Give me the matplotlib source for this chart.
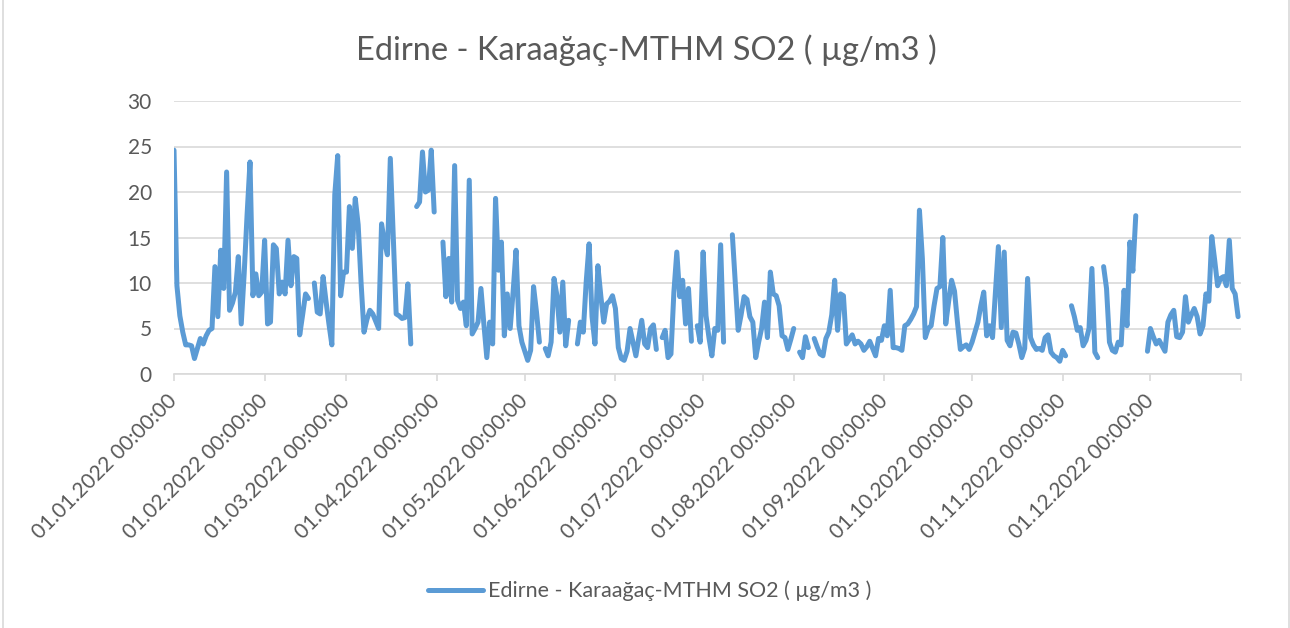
import numpy as np
import pandas as pd
import matplotlib
matplotlib.use('Agg')
import matplotlib.pyplot as plt
from matplotlib.patches import Rectangle

plt.rcParams['font.family'] = ['Lato', 'DejaVu Sans']

# ---- daily SO2 values (µg/m3), None = no measurement ----
jan = [24.6, 9.7, 6.4, 4.6, 3.2, 3.2, 3.1, 1.7, 2.8, 3.9, 3.3, 4.2, 4.8, 5.0, 11.8, 6.3,
       13.6, 9.4, 22.2, 7.0, 7.8, 9.0, 12.9, 5.5, 11.0, 17.5, 23.3, 8.6, 11.0, 8.6, 9.0]
feb = [14.7, 5.5, 5.7, 14.2, 13.8, 8.8, 10.1, 8.8, 14.7, 9.7, 12.9, 12.7, 4.3, 6.5,
       8.8, 8.3, None, 10.0, 6.8, 6.6, 10.7, 8.0, 5.5, 3.2, 19.7, 24.0, 8.6, 11.2]
mar = [11.2, 18.4, 13.8, 19.3, 16.4, 10.0, 4.6, 6.0, 7.0, 6.6, 5.8, 5.0, 16.5, 14.5,
       13.1, 23.7, 15.0, 6.6, 6.4, 6.1, 6.2, 9.9, 3.3, None, 18.4, 18.9, 24.4, 20.0,
       20.2, 24.6, 17.8]
apr = [None, None, 14.5, 8.5, 12.7, 7.9, 22.9, 8.1, 7.2, 7.9, 5.3, 21.3, 4.4, 5.0,
       5.7, 9.4, 5.5, 1.8, 5.7, 3.3, 19.3, 11.4, 14.5, 4.2, 8.8, 5.0, 9.0, 13.6, 5.3, 3.5]
may = [2.5, 1.5, 2.6, 9.6, 6.8, 3.5, None, 2.8, 2.0, 3.5, 10.5, 8.6, 4.6, 10.1, 3.1,
       5.9, None, None, 3.3, 5.7, 4.6, 10.1, 14.3, 6.3, 3.3, 11.9, 8.6, 5.7, 7.7, 8.0, 8.6]
jun = [7.2, 2.9, 1.7, 1.5, 2.5, 5.0, 3.5, 2.0, 4.0, 5.9, 3.3, 2.9, 5.0, 5.4, 2.7,
       None, 4.0, 4.8, 1.8, 2.2, 9.0, 13.4, 8.5, 10.3, 5.5, 9.4, 3.6, None, 5.3, 3.5]
jul = [13.4, 6.4, 4.0, 2.0, 5.0, 4.8, 14.2, 3.5, None, None, 15.3, 10.0, 4.8, 6.5,
       8.5, 8.2, 6.3, 5.7, 1.8, 3.5, 5.0, 7.9, 4.0, 11.2, 8.8, 8.6, 7.5, 4.2, 4.0, 2.7, 3.8]
aug = [5.0, None, 2.4, 1.8, 4.1, 2.9, None, 3.9, 3.0, 2.2, 2.0, 3.9, 4.6, 6.5, 10.3,
       4.8, 8.8, 8.6, 3.3, 3.8, 4.3, 3.3, 3.6, 3.3, 2.6, 3.0, 3.6, 2.8, 2.0, 3.9, 3.7]
sep = [5.3, 4.2, 9.2, 2.9, 2.9, 2.8, 2.6, 5.3, 5.5, 6.0, 6.6, 7.4, 18.0, 12.7, 4.0,
       5.0, 5.3, 7.5, 9.4, 9.6, 15.0, 5.5, 8.0, 10.3, 9.1, 5.7, 2.7, 3.0, 3.2, 2.7]
oct_ = [3.5, 4.6, 5.7, 7.5, 9.0, 4.2, 5.3, 4.0, 9.0, 14.0, 5.1, 13.4, 3.7, 3.1, 4.6,
        4.5, 3.3, 1.8, 2.8, 10.5, 4.0, 3.2, 2.7, 2.8, 2.6, 4.0, 4.3, 2.4, 2.0, 1.8, 1.4]
nov = [2.6, 2.0, None, 7.5, 6.3, 4.8, 5.1, 3.1, 3.7, 5.0, 11.6, 2.4, 1.8, None, 11.8,
       9.4, 3.5, 2.6, 2.4, 3.5, 3.2, 9.2, 5.3, 14.5, 11.3, 17.4, None, None, None, 2.5]
dec = [5.0, 4.1, 3.3, 3.7, 3.1, 2.5, 5.7, 6.5, 7.0, 4.1, 4.0, 4.6, 8.5, 5.7, 6.5,
       7.2, 6.3, 4.4, 5.3, 8.8, 8.0, 15.1, 12.5, 9.7, 10.5, 10.7, 9.7, 14.7, 9.4, 8.8, 6.3]

series_name = 'Edirne - Karaağaç-MTHM SO2 ( µg/m3 )'

values = np.array([np.nan if v is None else v
                   for v in jan + feb + mar + apr + may + jun + jul + aug + sep + oct_ + nov + dec],
                  dtype=float)
dates = pd.date_range('2022-01-01', periods=len(values), freq='D')
month_ticks = pd.date_range('2022-01-01', '2023-01-01', freq='MS')
tick_labels = [d.strftime('%d.%m.%Y %H:%M:%S') for d in month_ticks[:-1]] + ['']

text_col = '#595959'
grid_col = '#D9D9D9'
line_col = '#5B9BD5'

fig = plt.figure(figsize=(12.9, 6.28), dpi=100)
ax = fig.add_axes([174 / 1290, 1 - 374 / 628, (1241 - 174) / 1290, (374 - 101) / 628])

ax.plot(dates, values, color=line_col, linewidth=3.6, solid_joinstyle='round',
        solid_capstyle='round', label=series_name)

ax.set_xlim(month_ticks[0], month_ticks[-1])
ax.set_ylim(0, 30)
ax.set_yticks(np.arange(0, 31, 5))
ax.set_xticks(month_ticks)
ax.set_xticklabels(tick_labels, rotation=45, ha='right', va='center',
                   rotation_mode='anchor', color=text_col, fontsize=15)
ax.tick_params(axis='x', length=5, color=grid_col, width=1.2, pad=12)
ax.tick_params(axis='y', length=0, pad=16, labelsize=15, labelcolor=text_col)
ax.grid(axis='y', color=grid_col, linewidth=1.2)
ax.set_axisbelow(True)
for side in ['top', 'right', 'left']:
    ax.spines[side].set_visible(False)
ax.spines['bottom'].set_color(grid_col)
ax.spines['bottom'].set_linewidth(1.2)

fig.text(646 / 1290, 1 - 50 / 628, series_name, ha='center', va='center',
         fontsize=23.5, color=text_col)

leg = ax.legend(loc='center', bbox_to_anchor=(650 / 1290, 1 - 591 / 628),
                bbox_transform=fig.transFigure, frameon=False, fontsize=15.5,
                handlelength=2.55, handletextpad=0.25)
for t in leg.get_texts():
    t.set_color(text_col)

# chart area border
fig.patches.append(Rectangle((3 / 1290, -0.01), 1286 / 1290, 1.02, transform=fig.transFigure,
                             fill=False, edgecolor=grid_col, linewidth=1.2))

fig.savefig('out.png', dpi=100)
